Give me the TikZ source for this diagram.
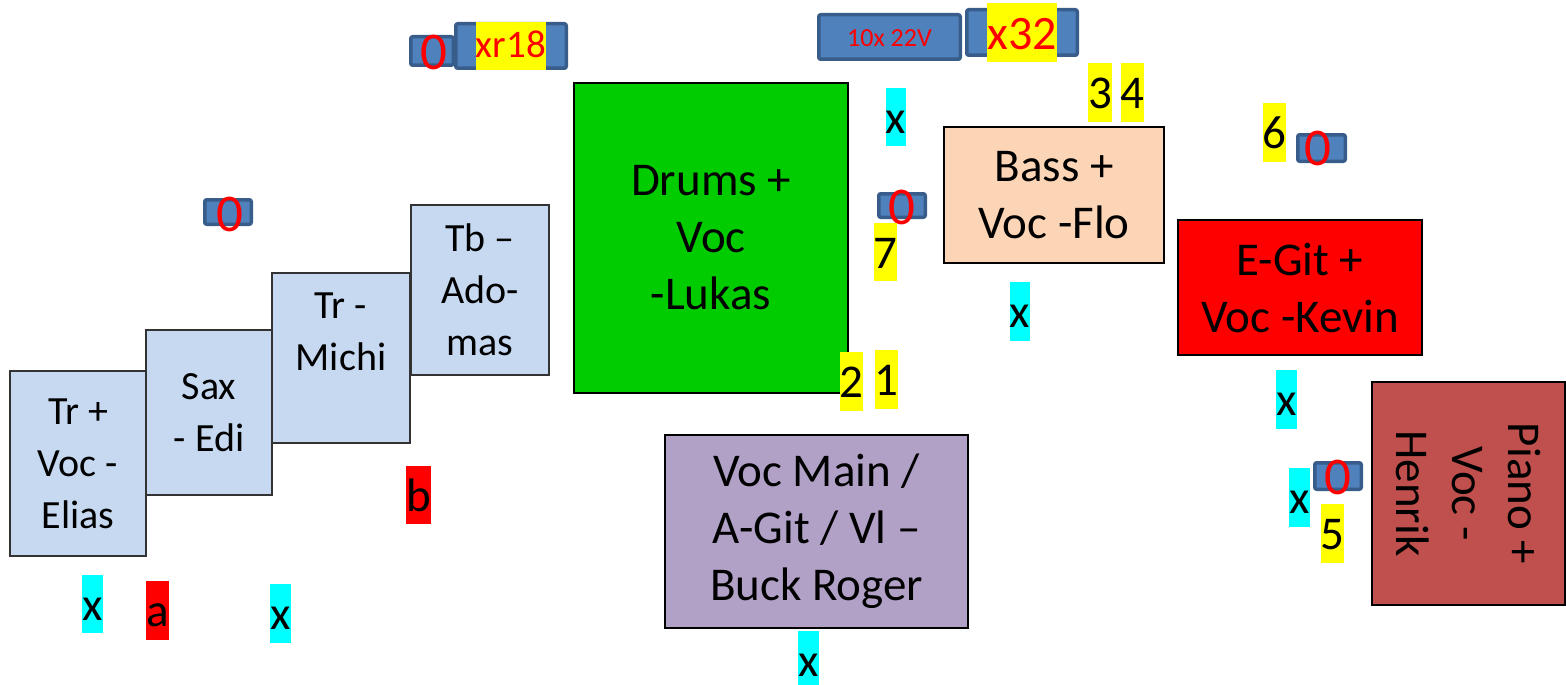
\documentclass[tikz,border=0pt]{standalone}
\usepackage{fontspec}
\setmainfont{Carlito}
\definecolor{lblue}{HTML}{C6D9F1}
\definecolor{lav}{HTML}{B2A1C7}
\definecolor{peach}{HTML}{FBD5B5}
\definecolor{brick}{HTML}{C0504D}
\definecolor{gr}{HTML}{00CC00}
\definecolor{barf}{HTML}{4F81BD}
\definecolor{barb}{HTML}{385D8A}
\definecolor{aqua}{HTML}{00FFFF}
\definecolor{pred}{HTML}{FF0000}
\definecolor{pyel}{HTML}{FFFF00}
\tikzset{
  smallbox/.style={draw=black!80, line width=1.2pt, fill=lblue, inner sep=0pt, align=center, font=\fontsize{40}{52}\selectfont},
  bigbox/.style={draw=black, line width=1.5pt, inner sep=0pt, align=center, font=\fontsize{47}{57}\selectfont},
  lab/.style={inner sep=0pt, font=\fontsize{47}{57}\selectfont, text height=45.5pt, text depth=13pt},
  cy/.style={lab, fill=aqua},
  rd/.style={lab, fill=pred},
  yl/.style={lab, fill=pyel},
  bar/.style={draw=barb, fill=barf, line width=3.5pt, rounded corners=2pt, inner sep=0pt},
  zero/.style={inner sep=0pt, text=pred, font=\fontsize{53}{63}\selectfont, text height=33.5pt, text depth=0pt}
}
\begin{document}
\begin{tikzpicture}[x=1pt,y=-1pt]
\useasboundingbox (0,0) rectangle (1566,685);
% boxes
\node[smallbox, minimum width=136, minimum height=185] (elias) at (78,463.5) {Tr +\\Voc -\\Elias};
\node[smallbox, minimum width=126, minimum height=165] (sax) at (209,412.5) {Sax\\- Edi};
\node[smallbox, minimum width=138, minimum height=170] (michi) at (341,358) {Tr -\\Michi\\ };
\node[smallbox, minimum width=138, minimum height=170] (ado) at (480,290) {Tb –\\Ado-\\mas};
\node[bigbox, fill=gr, minimum width=274, minimum height=310] (drums) at (711,238) {Drums +\\Voc\\-Lukas};
\node[bigbox, fill=lav, minimum width=303, minimum height=193] (buck) at (816.5,531.5) {Voc Main /\\A-Git / Vl –\\Buck Roger};
\node[bigbox, fill=peach, minimum width=220, minimum height=136] (bass) at (1054,195) {Bass +\\Voc -Flo};
\node[bigbox, fill=pred, minimum width=244, minimum height=135] (kevin) at (1300,287.5) {E-Git +\\Voc -Kevin};
\node[bigbox, fill=brick, rotate=-90, minimum width=223, minimum height=193, font=\fontsize{47}{56}\selectfont] (piano) at (1468.5,493.5) {Piano +\\Voc -\\Henrik};
% bars
\node[bar, minimum width=42.5, minimum height=28.5] (s1) at (432,51) {};
\node[bar, minimum width=110.5, minimum height=44.5] (mx18) at (511,46) {};
\node[bar, minimum width=141.5, minimum height=44.5] (amp) at (889.5,37) {};
\node[bar, minimum width=110.5, minimum height=45.5] (mx32) at (1022,32.5) {};
\node[bar, minimum width=46.5, minimum height=24.5] (z1) at (228,212) {};
\node[bar, minimum width=46.5, minimum height=23.5] (z2) at (902,205.5) {};
\node[bar, minimum width=47.5, minimum height=26.5] (z3) at (1321.5,148) {};
\node[bar, minimum width=46.5, minimum height=26.5] (z4) at (1338,476) {};
% bar texts
\node[zero] (t0a) at (434,53) {0};
\node[inner sep=0pt, fill=pyel, text=pred, font=\fontsize{39}{47}\selectfont, text height=36pt, text depth=12pt] (txr) at (511,46) {xr18};
\node[inner sep=0pt, text=pred, font=\fontsize{26}{32}\selectfont, text height=16.5pt, text depth=0pt] (tamp) at (889.5,38.5) {10x 22V};
\node[inner sep=0pt, fill=pyel, text=pred, font=\fontsize{48}{58}\selectfont, text height=46pt, text depth=13pt] (tx32) at (1022,32.5) {x32};
\node[zero] (t0b) at (230,215) {0};
\node[zero] (t0c) at (902,208) {0};
\node[zero] (t0d) at (1318,149) {0};
\node[zero] (t0e) at (1338,478) {0};
% cyan x labels
\node[cy] (x1) at (92.5,604) {x};
\node[cy] (x2) at (280.5,613.5) {x};
\node[cy] (x3) at (896,117) {x};
\node[cy] (x4) at (1020,311.5) {x};
\node[cy] (x5) at (1286.5,399.5) {x};
\node[cy] (x6) at (1299.5,497.5) {x};
\node[cy] (x7) at (808.5,660.5) {x};
% red labels
\node[rd] (la) at (157.5,610.5) {a};
\node[rd] (lb) at (418.5,495) {b};
% yellow numbers
\node[yl] (n3) at (1100,92.5) {3};
\node[yl] (n4) at (1132.5,92.5) {4};
\node[yl] (n6) at (1274.5,132.5) {6};
\node[yl] (n7) at (885.5,252) {7};
\node[yl] (n2) at (851.5,381.5) {2};
\node[yl] (n1) at (886.5,379.5) {1};
\node[yl] (n5) at (1332.5,533.5) {5};
\end{tikzpicture}
\end{document}
